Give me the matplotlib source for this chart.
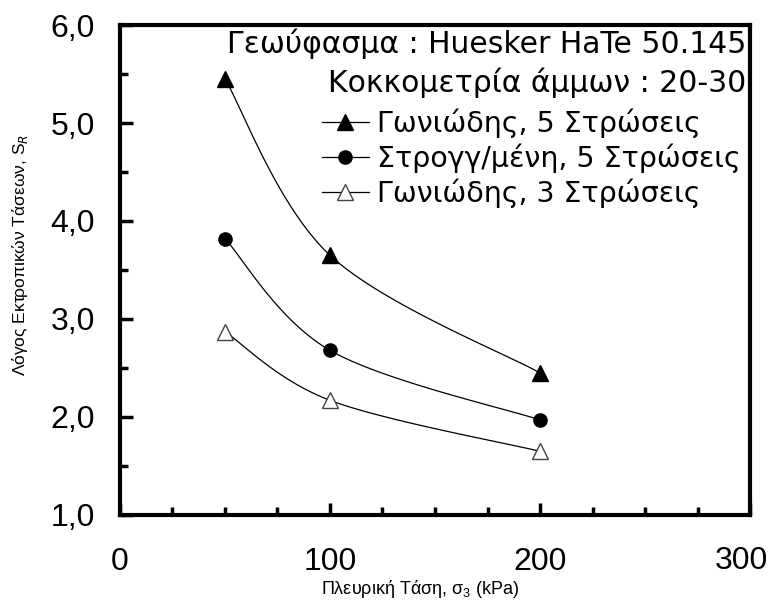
import numpy as np
import matplotlib.pyplot as plt
import matplotlib.transforms as mtransforms
from matplotlib.ticker import MultipleLocator, FuncFormatter

plt.rcParams['font.family'] = ['Liberation Sans', 'DejaVu Sans']
plt.rcParams['mathtext.fontset'] = 'custom'
plt.rcParams['mathtext.rm'] = 'Liberation Sans'

# data
sigma3 = [50, 100, 200]
angular5 = [5.45, 3.65, 2.45]
rounded5 = [3.82, 2.68, 1.97]
angular3 = [2.87, 2.17, 1.65]
labels = ["Γωνιώδης, 5 Στρώσεις", "Στρογγ/μένη, 5 Στρώσεις", "Γωνιώδης, 3 Στρώσεις"]
xmax = 300


def smooth(xs, ys, n=40, t=0.5):
    # excel-like smoothed line through the points (catmull-rom)
    p = np.column_stack([xs, ys]).astype(float)
    p = np.vstack([p[0], p, p[-1]])
    out = []
    for i in range(1, len(p) - 2):
        p0, p1, p2, p3 = p[i - 1], p[i], p[i + 1], p[i + 2]
        c1 = p1 + (p2 - p0) * t / 3
        c2 = p2 - (p3 - p1) * t / 3
        s = np.linspace(0, 1, n)[:, None]
        seg = (1 - s) ** 3 * p1 + 3 * (1 - s) ** 2 * s * c1 + 3 * (1 - s) * s ** 2 * c2 + s ** 3 * p2
        out.append(seg)
    out = np.vstack(out)
    return out[:, 0], out[:, 1]


def xfmt(v, p):
    # last label drawn separately, it sits left of its tick in the original
    return "" if v >= xmax else f"{v:.0f}"


fig = plt.figure(figsize=(7.71, 6.01), dpi=100)
ax = fig.add_axes([0.1556, 0.1431, 0.8172, 0.8153])

styles = [
    dict(marker='^', ms=12, mfc='black', mec='black'),
    dict(marker='o', ms=9.5, mfc='black', mec='black'),
    dict(marker='^', ms=12, mfc='white', mec='#444444'),
]
for ys, lab, st in zip([angular5, rounded5, angular3], labels, styles):
    sx, sy = smooth(sigma3, ys)
    ax.plot(sx, sy, color='black', lw=0.9, zorder=2)
    ax.plot(sigma3, ys, ls='none', mew=1, zorder=3, **st)
    ax.plot([], [], color='black', lw=0.9, mew=1, label=lab, **st)

ax.set_xlim(0, xmax)
ax.set_ylim(1.0, 6.0)
ax.xaxis.set_major_locator(MultipleLocator(100))
ax.xaxis.set_minor_locator(MultipleLocator(25))
ax.yaxis.set_major_locator(MultipleLocator(1))
ax.yaxis.set_minor_locator(MultipleLocator(0.5))
ax.xaxis.set_major_formatter(FuncFormatter(xfmt))
ax.yaxis.set_major_formatter(FuncFormatter(lambda v, p: f"{v:.1f}".replace('.', ',')))
ax.tick_params(which='both', direction='in', width=2.5, labelsize=23, top=False, right=False)
ax.tick_params(which='major', length=9)
ax.tick_params(which='minor', length=6)
ax.tick_params(axis='x', which='major', pad=23)
ax.tick_params(axis='y', which='major', pad=18)
for sp in ax.spines.values():
    sp.set_linewidth(3)

shift = mtransforms.ScaledTranslation(0.18, 0, fig.dpi_scale_trans)
ax.text(xmax, -0.093, f"{xmax}", transform=ax.get_xaxis_transform() + shift,
        ha='right', va='center', fontsize=23)

ax.set_xlabel("Πλευρική Τάση, σ$_3$ (kPa)", fontsize=13, va='center')
ax.xaxis.set_label_coords(0.476, -0.152)
ax.set_ylabel("Λόγος Εκτροπικών Τάσεων, S$_R$", fontsize=12.5, va='center')
ax.yaxis.set_label_coords(-0.159, 0.53)

ax.text(0.994, 0.962, "Γεωύφασμα : Huesker HaTe 50.145", transform=ax.transAxes,
        ha='right', va='center', fontsize=21.5, family='DejaVu Sans')
ax.text(0.994, 0.882, "Κοκκομετρία άμμων : 20-30", transform=ax.transAxes,
        ha='right', va='center', fontsize=21.5, family='DejaVu Sans')
ax.legend(loc='upper left', bbox_to_anchor=(0.32, 0.83), frameon=False,
          prop={'family': 'DejaVu Sans', 'size': 20.5},
          handlelength=1.65, handletextpad=0.3, labelspacing=0.2, borderpad=0, borderaxespad=0)

fig.savefig("out.png", dpi=100)
